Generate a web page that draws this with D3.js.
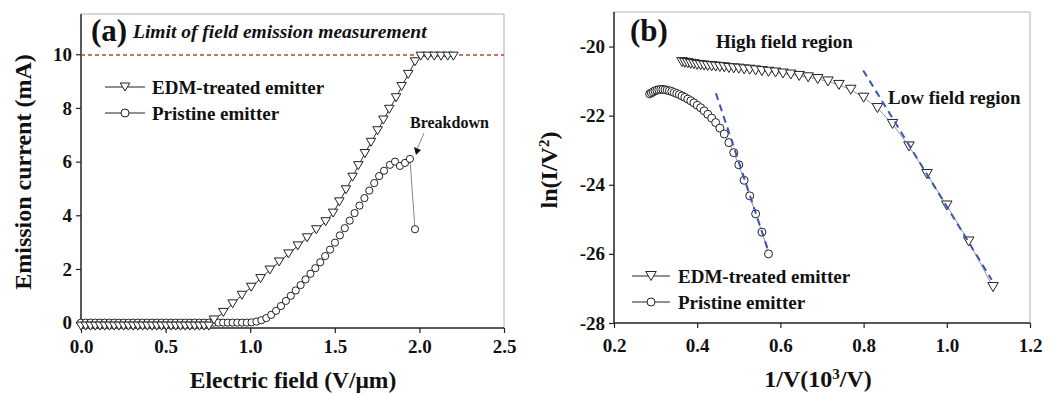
<!DOCTYPE html>
<html><head><meta charset="utf-8">
<script src="https://cdn.jsdelivr.net/npm/d3@7"></script>
<style>
body{margin:0;background:#fff}
svg text{font-family:"Liberation Serif","Times New Roman",serif;font-weight:bold;fill:#111}
</style>
</head><body><svg id="c" width="1049" height="394"></svg>
<script>
// ---------- Panel (a) data ----------
const edmFieldA = [0,0.028,0.056,0.084,0.112,0.14,0.168,0.196,0.224,0.252,0.28,0.308,0.336,0.364,0.392,0.42,0.448,0.476,0.504,0.532,0.56,0.588,0.616,0.644,0.672,0.70,0.728,0.756,
  0.786,0.841,0.896,0.951,1.006,1.061,1.116,1.171,1.226,1.281,1.336,1.391,1.446,1.490,1.527,1.566,1.605,1.639,1.678,1.714,1.753,1.787,1.822,1.862,1.895,1.934,1.974,
  2.008,2.049,2.088,2.128,2.167,2.201];
const edmCurrentA = [-0.13,-0.13,-0.13,-0.13,-0.13,-0.13,-0.13,-0.13,-0.13,-0.13,-0.13,-0.13,-0.13,-0.13,-0.13,-0.13,-0.13,-0.13,-0.13,-0.13,-0.13,-0.13,-0.13,-0.13,-0.13,-0.13,-0.13,-0.13,
  0.10,0.38,0.70,1.02,1.32,1.64,1.96,2.26,2.56,2.86,3.16,3.46,3.76,4.08,4.50,4.95,5.42,5.85,6.30,6.72,7.15,7.55,7.95,8.38,8.80,9.25,9.72,
  9.93,9.93,9.93,9.93,9.93,9.93];
const priFieldA = [0,0.028,0.056,0.084,0.112,0.14,0.168,0.196,0.224,0.252,0.28,0.308,0.336,0.364,0.392,0.42,0.448,0.476,0.504,0.532,0.56,0.588,0.616,0.644,0.672,0.70,0.728,0.756,0.784,0.812,0.84,0.868,0.896,0.924,0.952,0.98,
  1.008,1.037,1.066,1.095,1.124,1.153,1.182,1.211,1.240,1.269,1.298,1.327,1.356,1.385,1.414,1.443,1.472,1.501,1.530,1.559,1.588,1.617,1.646,1.675,1.704,1.733,1.762,1.791,1.826,1.856,1.885,1.915,1.944,1.974];
const priCurrentA = [0,0,0,0,0,0,0,0,0,0,0,0,0,0,0,0,0,0,0,0,0,0,0,0,0,0,0,0,0,0,0,0,0,0,0,0,
  0.01,0.04,0.09,0.17,0.29,0.44,0.62,0.81,1.00,1.20,1.40,1.61,1.82,2.03,2.25,2.48,2.72,2.98,3.25,3.52,3.80,4.08,4.36,4.64,4.92,5.20,5.46,5.66,5.88,6.00,5.84,5.95,6.10,3.48];
const xTicksA = [0,0.5,1.0,1.5,2.0,2.5];
const yTicksA = [0,2,4,6,8,10];
const limitCurrent = 9.97;

// ---------- Panel (b) data ----------
const edmInvVB = [0.3636,0.3704,0.3774,0.3846,0.3922,0.4,0.4082,0.4167,0.4255,0.4348,0.4444,0.4545,0.4651,0.4762,0.4878,0.5,0.5128,0.5263,0.5405,0.5556,0.5714,0.5882,0.6061,0.625,0.6452,0.6667,0.6897,0.7143,0.7407,0.7692,0.8,0.8333,0.8696,0.9091,0.9524,1.0,1.0526,1.1111];
const edmLnB = [-20.45,-20.47,-20.48,-20.50,-20.51,-20.53,-20.54,-20.55,-20.56,-20.57,-20.58,-20.59,-20.60,-20.62,-20.63,-20.64,-20.66,-20.67,-20.69,-20.71,-20.73,-20.75,-20.78,-20.81,-20.85,-20.89,-20.94,-21.01,-21.11,-21.25,-21.48,-21.78,-22.24,-22.89,-23.69,-24.60,-25.64,-26.96];
const priInvVB = [0.2857,0.2899,0.2941,0.2985,0.303,0.3077,0.3125,0.3175,0.3226,0.3279,0.3333,0.339,0.3448,0.3509,0.3571,0.3636,0.3704,0.3774,0.3846,0.3922,0.4,0.4082,0.4167,0.4255,0.4348,0.4444,0.4545,0.4651,0.4762,0.4878,0.5,0.5128,0.5263,0.5405,0.5556,0.5714];
const priLnB = [-21.37,-21.34,-21.31,-21.28,-21.26,-21.25,-21.24,-21.24,-21.25,-21.26,-21.28,-21.30,-21.33,-21.36,-21.39,-21.43,-21.47,-21.52,-21.57,-21.63,-21.70,-21.77,-21.86,-21.96,-22.07,-22.20,-22.36,-22.53,-22.78,-23.07,-23.42,-23.87,-24.32,-24.84,-25.37,-26.00];
const fitPriX = [0.445,0.572], fitPriY = [-21.35,-25.95];
const fitEdmX = [0.799,1.108], fitEdmY = [-20.69,-26.75];
const xTicksB = [0.2,0.4,0.6,0.8,1.0,1.2];
const yTicksB = [-28,-26,-24,-22,-20];

const svg = d3.select("#c");

function tri(g, xs, ys, x, y, w, h){
  g.selectAll(null).data(d3.range(xs.length)).join("path")
    .attr("d", i => { const cx = x(xs[i]), cy = y(ys[i]);
      return `M${cx-w/2},${cy-h/2}L${cx+w/2},${cy-h/2}L${cx},${cy+h/2}Z`; })
    .attr("fill","#fff").attr("stroke","#222").attr("stroke-width",1);
}
function circ(g, xs, ys, x, y, r){
  g.selectAll(null).data(d3.range(xs.length)).join("circle")
    .attr("cx", i => x(xs[i])).attr("cy", i => y(ys[i])).attr("r", r)
    .attr("fill","#fff").attr("stroke","#222").attr("stroke-width",1);
}
function line(g, xs, ys, x, y, color, wd, dash){
  const p = g.append("path").datum(d3.range(xs.length))
    .attr("d", d3.line().x(i => x(xs[i])).y(i => y(ys[i])))
    .attr("fill","none").attr("stroke",color).attr("stroke-width",wd);
  if (dash) p.attr("stroke-dasharray", dash);
  return p;
}
function frame(L,R,T,B){
  svg.append("path").attr("d",`M${L},${T}H${R}V${B}`).attr("fill","none").attr("stroke","#b0b0b0").attr("stroke-width",1);
}
function styleAxis(g){
  g.selectAll("path.domain").attr("stroke","#222").attr("stroke-width",1.5);
  g.selectAll("line").attr("stroke","#222").attr("stroke-width",1.2);
  g.selectAll("text").style("font-size","19px").attr("fill","#111")
   .style("font-family",'"Liberation Serif","Times New Roman",serif').style("font-weight","bold");
}
const hy = d => String(d);

// ================= Panel (a) =================
{
  const L=81,R=504,T=14,B=328;
  const x = d3.scaleLinear().domain([0,2.5]).range([L,R]);
  const y = d3.scaleLinear().domain([-0.2,11.5]).range([B,T]);
  frame(L,R,T,B);
  const gx = svg.append("g").attr("transform",`translate(0,${B})`);
  gx.call(d3.axisBottom(x).tickValues(d3.range(0,2.51,0.25)).tickSize(3).tickFormat(""));
  gx.call(d3.axisBottom(x).tickValues(xTicksA).tickSize(5).tickPadding(7).tickFormat(d3.format(".1f")));
  styleAxis(gx);
  const gy = svg.append("g").attr("transform",`translate(${L},0)`);
  gy.call(d3.axisLeft(y).tickValues(d3.range(1,11.6,2)).tickSize(3).tickFormat(""));
  gy.call(d3.axisLeft(y).tickValues(yTicksA).tickSize(5).tickPadding(4).tickFormat(hy));
  styleAxis(gy);
  gy.selectAll("path.domain").attr("d",`M0,${B}V${T}`);
  gx.selectAll("path.domain").attr("d",`M${L},0H${R}`);

  svg.append("line").attr("x1",L).attr("x2",R).attr("y1",y(limitCurrent)).attr("y2",y(limitCurrent))
    .attr("stroke","#b5482a").attr("stroke-width",1.5).attr("stroke-dasharray","4,3");

  const g = svg.append("g");
  line(g, priFieldA, priCurrentA, x, y, "#888", 1);
  line(g, edmFieldA, edmCurrentA, x, y, "#333", 1);
  circ(g, priFieldA, priCurrentA, x, y, 3.6);
  tri(g, edmFieldA, edmCurrentA, x, y, 9.5, 8);

  svg.append("text").attr("x",91).attr("y",41).style("font-size","31px").text("(a)");
  svg.append("text").attr("x",133).attr("y",38).style("font-size","19.5px").style("font-style","italic")
    .text("Limit of field emission measurement");
  const lg = svg.append("g");
  lg.append("line").attr("x1",105).attr("x2",145).attr("y1",87).attr("y2",87).attr("stroke","#222");
  tri(lg,[0],[0],()=>125,()=>87,9.5,8);
  lg.append("text").attr("x",152).attr("y",94).style("font-size","19px").text("EDM-treated emitter");
  lg.append("line").attr("x1",105).attr("x2",145).attr("y1",113).attr("y2",113).attr("stroke","#222");
  circ(lg,[0],[0],()=>125,()=>113,4);
  lg.append("text").attr("x",152).attr("y",120).style("font-size","19px").text("Pristine emitter");
  svg.append("text").attr("x",410).attr("y",128).style("font-size","16px").text("Breakdown");
  svg.append("line").attr("x1",424).attr("y1",133).attr("x2",417.5).attr("y2",148).attr("stroke","#888").attr("stroke-width",1);
  svg.append("path").attr("d","M414,147 L421,150 L416,155 Z").attr("fill","#111");
  svg.append("text").attr("x",293).attr("y",388).attr("text-anchor","middle").style("font-size","23.5px").text("Electric field (V/\u03BCm)");
  svg.append("text").attr("transform","translate(31,172) rotate(-90)").attr("text-anchor","middle").style("font-size","24px").text("Emission current (mA)");
}

// ================= Panel (b) =================
{
  const L=614,R=1030,T=12,B=323;
  const x = d3.scaleLinear().domain([0.2,1.2]).range([L,R]);
  const y = d3.scaleLinear().domain([-28,-19]).range([B,T]);
  frame(L,R,T,B);
  const gx = svg.append("g").attr("transform",`translate(0,${B})`);
  gx.call(d3.axisBottom(x).tickValues(d3.range(0.2,1.21,0.1)).tickSize(3).tickFormat(""));
  gx.call(d3.axisBottom(x).tickValues(xTicksB).tickSize(5).tickPadding(11).tickFormat(d3.format(".1f")));
  styleAxis(gx);
  const gy = svg.append("g").attr("transform",`translate(${L},0)`);
  gy.call(d3.axisLeft(y).tickValues(d3.range(-27,-18.9,2)).tickSize(3).tickFormat(""));
  gy.call(d3.axisLeft(y).tickValues(yTicksB).tickSize(5).tickPadding(4).tickFormat(hy));
  styleAxis(gy);
  gy.selectAll("path.domain").attr("d",`M0,${B}V${T}`);
  gx.selectAll("path.domain").attr("d",`M${L},0H${R}`);

  const g = svg.append("g");
  line(g, priInvVB, priLnB, x, y, "#999", 1);
  line(g, edmInvVB, edmLnB, x, y, "#999", 1);
  circ(g, priInvVB, priLnB, x, y, 4);
  tri(g, edmInvVB, edmLnB, x, y, 10.5, 9);
  line(g, fitPriX, fitPriY, x, y, "#3a55b4", 2, "7,5");
  line(g, fitEdmX, fitEdmY, x, y, "#3a55b4", 2, "7,5");

  svg.append("text").attr("x",630).attr("y",41).style("font-size","31px").text("(b)");
  svg.append("text").attr("x",716).attr("y",48).style("font-size","19px").text("High field region");
  svg.append("text").attr("x",888).attr("y",104).style("font-size","19px").text("Low field region");

  const lg = svg.append("g");
  lg.append("line").attr("x1",632).attr("x2",670).attr("y1",276).attr("y2",276).attr("stroke","#222");
  tri(lg,[0],[0],()=>651,()=>276,10.5,9);
  lg.append("text").attr("x",678).attr("y",283).style("font-size","19px").text("EDM-treated emitter");
  lg.append("line").attr("x1",632).attr("x2",670).attr("y1",302).attr("y2",302).attr("stroke","#222");
  circ(lg,[0],[0],()=>651,()=>302,4);
  lg.append("text").attr("x",678).attr("y",309).style("font-size","19px").text("Pristine emitter");

  svg.append("text").attr("x",818).attr("y",387).attr("text-anchor","middle").style("font-size","24px").html("1/V(10<tspan baseline-shift=\"super\" font-size=\"15px\">3</tspan>/V)");
  svg.append("text").attr("transform","translate(557,170) rotate(-90)").attr("text-anchor","middle").style("font-size","24px").html("ln(I/V<tspan baseline-shift=\"super\" font-size=\"15px\">2</tspan>)");
}
</script></body></html>
